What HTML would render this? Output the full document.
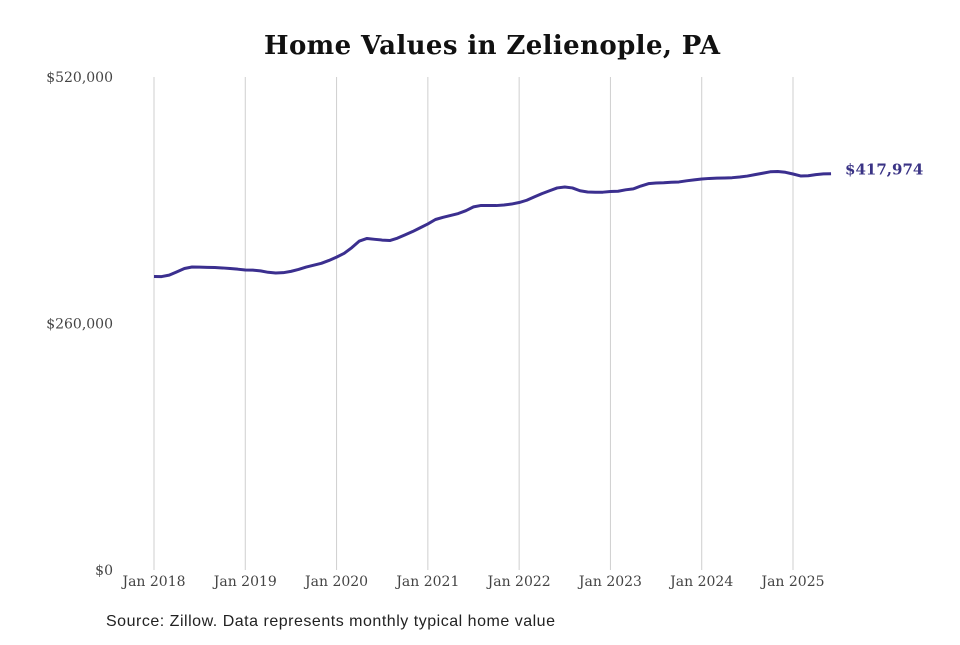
<!DOCTYPE html>
<html><head><meta charset="utf-8"><style>
body{margin:0;background:#fff;}
svg text{font-family:"DejaVu Serif","Liberation Serif",serif;}
</style></head><body>
<svg width="960" height="640" xmlns="http://www.w3.org/2000/svg">
<text x="492" y="54" text-anchor="middle" font-size="26" font-weight="bold" fill="#111" textLength="456">Home Values in Zelienople, PA</text>
<g id="grid"></g>
<g id="yaxis"></g>
<g id="xaxis"></g>
<path id="line" fill="none" stroke="#3b2f8f" stroke-width="3" stroke-linejoin="round"/>
<text id="endlabel" font-size="15" font-weight="bold" fill="#3a3385"></text>
<text x="106" y="626" font-size="16" fill="#222" textLength="449" style="font-family:'Liberation Sans',sans-serif">Source: Zillow. Data represents monthly typical home value</text>
</svg>
<script>
const yTickValues=[0,260000,520000];
const yTickLabels=["$0","$260,000","$520,000"];
const xTickYears=[2018,2019,2020,2021,2022,2023,2024,2025];
const xTickLabels=["Jan 2018","Jan 2019","Jan 2020","Jan 2021","Jan 2022","Jan 2023","Jan 2024","Jan 2025"];
const startYear=2018;
const values=[
309.6,309.5,311,314.5,318,319.6,319.5,319.2,319,318.6,318,317.3,
316.4,316.3,315.5,314,313.3,313.6,315,317,319.5,321.5,323.5,326.5,
330,334,340,347,349.7,348.8,348,347.5,350,353.5,357,361,
365,369.7,372,374,376,379,383,384.5,384.4,384.4,385,386,
387.6,390,393.5,397,400,403,404,403,400,398.7,398.5,398.5,
399.2,399.5,401,402,405,407.5,408.2,408.5,409,409.3,410.5,411.5,
412.4,413,413.3,413.5,413.8,414.5,415.5,417,418.5,420,420.3,419.5,
417.7,415.6,415.8,417,417.8,417.974];
const lastLabel="$417,974";
const ns="http://www.w3.org/2000/svg";
function xPos(m){return 154+m*(639/84);}
function yPos(v){return 570-v/520000*493;}
const grid=document.getElementById('grid'),xa=document.getElementById('xaxis'),ya=document.getElementById('yaxis');
xTickYears.forEach((yr,i)=>{
 const x=xPos((yr-startYear)*12);
 const l=document.createElementNS(ns,'line');
 
 
 l.setAttribute('x1',x);l.setAttribute('x2',x);l.setAttribute('y1',77);l.setAttribute('y2',570);
 l.setAttribute('stroke','#cfcfcf');l.setAttribute('stroke-width','1');grid.appendChild(l);
 const t=document.createElementNS(ns,'text');
 
 
 t.setAttribute('x',x);t.setAttribute('y',586);t.setAttribute('text-anchor','middle');
 t.setAttribute('font-size','14');t.setAttribute('fill','#444');t.textContent=xTickLabels[i];xa.appendChild(t);
});
yTickValues.forEach((v,i)=>{
 const t=document.createElementNS(ns,'text');
 
 
 t.setAttribute('x',113);t.setAttribute('y',yPos(v)+5);t.setAttribute('text-anchor','end');
 t.setAttribute('font-size','14');t.setAttribute('fill','#444');t.textContent=yTickLabels[i];ya.appendChild(t);
});
let d='';
values.forEach((v,i)=>{d+=(i?'L':'M')+xPos(i).toFixed(2)+' '+yPos(v*1000).toFixed(2);});
document.getElementById('line').setAttribute('d',d);
const el=document.getElementById('endlabel');
const li=values.length-1;
el.setAttribute('x',xPos(li)+14);el.setAttribute('y',yPos(values[li]*1000)+1);
el.textContent=lastLabel;
</script>
</body></html>
